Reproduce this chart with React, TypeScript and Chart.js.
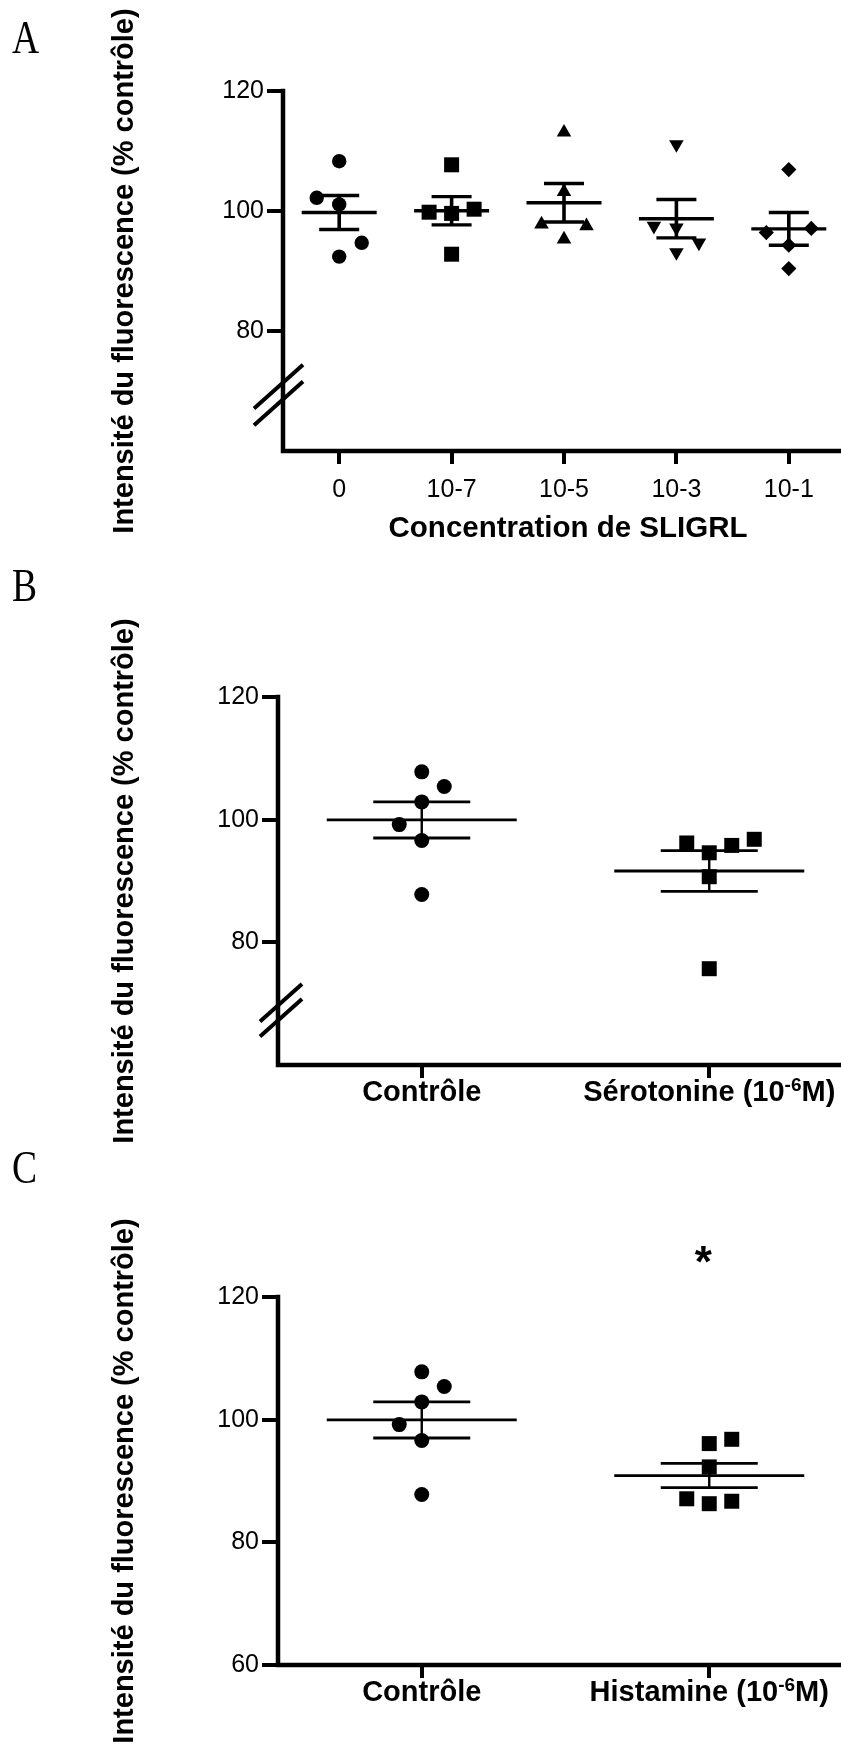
import React, { useEffect, useRef } from "react";
import { Chart, registerables } from "chart.js";

Chart.register(...registerables);

const SANS = '"Liberation Sans", Arial, Helvetica, sans-serif';
const SERIF = '"Liberation Serif", "Times New Roman", serif';

// ---------------- Data ----------------
const yAxisTitle = "Intensité du fluorescence (% contrôle)";

// Panel A
const sligrlLabels = ["0", "10-7", "10-5", "10-3", "10-1"];
const sligrlTitle = "Concentration de SLIGRL";
const sligrl0 = [108.3, 101.1, 92.4, 94.7, 102.2];
const sligrl1e7 = [107.7, 99.6, 100.3, 99.8, 92.8];
const sligrl1e5 = [113.1, 103.2, 95.3, 97.5, 97.8];
const sligrl1e3 = [111.1, 97.2, 93.1, 94.7, 97.5];
const sligrl1e1 = [106.9, 94.3, 90.4, 97.1, 96.4];
const ticksA = [80, 100, 120];

// Panel B
const serotoninLabels = ["Contrôle", "Sérotonine (10^{-6}M)"];
const serotoninControl = [107.8, 105.4, 102.9, 96.6, 99.2, 87.8];
const serotoninTreated = [94.6, 95.8, 96.2, 96.8, 90.7, 75.7];
const ticksB = [80, 100, 120];

// Panel C
const histamineLabels = ["Contrôle", "Histamine (10^{-6}M)"];
const histamineControl = [107.8, 105.4, 102.9, 96.6, 99.2, 87.8];
const histamineTreated = [96.1, 96.8, 92.3, 86.3, 87.1, 86.7];
const histamineSignificance = ["", "*"];
const ticksC = [60, 80, 100, 120];

// ---------------- Layout helpers ----------------
const SWARM_THRESHOLD = 3.2; // value units: closer points are spread sideways
const SLOT_PX = 22.5;

function swarmSlots(values: number[]): number[] {
  const slots: number[] = [];
  let displaced = 0;
  values.forEach((v) => {
    const free = (s: number) =>
      !slots.some((ps, j) => ps === s && Math.abs(values[j] - v) < SWARM_THRESHOLD);
    if (free(0)) {
      slots.push(0);
      return;
    }
    displaced += 1;
    const dir = displaced % 2 === 1 ? 1 : -1;
    for (let k = 1; k < 10; k++) {
      if (free(dir * k)) { slots.push(dir * k); return; }
      if (free(-dir * k)) { slots.push(-dir * k); return; }
    }
    slots.push(0);
  });
  return slots;
}

type Marker = { style: string; radius: number; rotation?: number };

interface PanelSpec {
  letter: string;
  letterBaseline: number; // page coords
  top: number;
  width: number;
  height: number;
  chartTop: number;
  chartBottom: number;
  chartLeft: number;
  chartRight: number;
  labels: string[];
  groups: number[][];
  markers: Marker[];
  yTicks: number[];
  libraryXLabels: boolean;
  xTitle?: string;
  xTitleBaseline?: number;
  brk?: { value: number; left: number; right: number; gap: number; slope: number };
  meanHalf: number;
  capHalf: number;
  meanWidth: number;
  barWidth: number;
  stars?: string[];
  starValue?: number;
}

const panels: PanelSpec[] = [
  {
    letter: "A",
    letterBaseline: 53,
    top: 0,
    width: 870,
    height: 600,
    chartTop: 91,
    chartBottom: 451,
    chartLeft: 283,
    chartRight: 845,
    labels: sligrlLabels,
    groups: [sligrl0, sligrl1e7, sligrl1e5, sligrl1e3, sligrl1e1],
    markers: [
      { style: "circle", radius: 7.2 },
      { style: "rect", radius: 10.6 },
      { style: "triangle", radius: 8.4 },
      { style: "triangle", radius: 8.4, rotation: 180 },
      { style: "rectRot", radius: 7.6 },
    ],
    yTicks: ticksA,
    libraryXLabels: true,
    xTitle: sligrlTitle,
    xTitleBaseline: 537,
    brk: { value: 70, left: 29, right: 20, gap: 16.7, slope: 0.89 },
    meanHalf: 37.5,
    capHalf: 20,
    meanWidth: 3.4,
    barWidth: 3.6,
  },
  {
    letter: "B",
    letterBaseline: 601,
    top: 560,
    width: 870,
    height: 600,
    chartTop: 137,
    chartBottom: 505,
    chartLeft: 278,
    chartRight: 853,
    labels: serotoninLabels,
    groups: [serotoninControl, serotoninTreated],
    markers: [
      { style: "circle", radius: 7.5 },
      { style: "rect", radius: 10.6 },
    ],
    yTicks: ticksB,
    libraryXLabels: false,
    brk: { value: 68.5, left: 18, right: 24, gap: 15, slope: 0.89 },
    meanHalf: 95,
    capHalf: 48.5,
    meanWidth: 2.8,
    barWidth: 2.4,
  },
  {
    letter: "C",
    letterBaseline: 1183,
    top: 1120,
    width: 870,
    height: 627,
    chartTop: 177,
    chartBottom: 545,
    chartLeft: 278,
    chartRight: 853,
    labels: histamineLabels,
    groups: [histamineControl, histamineTreated],
    markers: [
      { style: "circle", radius: 7.5 },
      { style: "rect", radius: 10.6 },
    ],
    yTicks: ticksC,
    libraryXLabels: false,
    meanHalf: 95,
    capHalf: 48.5,
    meanWidth: 2.8,
    barWidth: 2.4,
    stars: histamineSignificance,
    starValue: 127,
  },
];

function drawRich(ctx: CanvasRenderingContext2D, text: string, cx: number, baseline: number, size: number) {
  const parts: { t: string; sup: boolean }[] = [];
  const re = /\^\{([^}]*)\}/g;
  let last = 0;
  let m: RegExpExecArray | null;
  while ((m = re.exec(text))) {
    if (m.index > last) parts.push({ t: text.slice(last, m.index), sup: false });
    parts.push({ t: m[1], sup: true });
    last = m.index + m[0].length;
  }
  if (last < text.length) parts.push({ t: text.slice(last), sup: false });
  const supSize = Math.round(size * 0.64);
  const fontFor = (sup: boolean) => `bold ${sup ? supSize : size}px ${SANS}`;
  let total = 0;
  parts.forEach((p) => {
    ctx.font = fontFor(p.sup);
    total += ctx.measureText(p.t).width;
  });
  let x = cx - total / 2;
  ctx.textAlign = "left";
  ctx.textBaseline = "alphabetic";
  parts.forEach((p) => {
    ctx.font = fontFor(p.sup);
    ctx.fillText(p.t, x, p.sup ? baseline - size * 0.36 : baseline);
    x += ctx.measureText(p.t).width;
  });
}

function makePlugin(spec: PanelSpec) {
  return {
    id: "decor" + spec.letter,
    afterDraw(chart: any) {
      const ctx: CanvasRenderingContext2D = chart.ctx;
      const area = chart.chartArea;
      const xs = chart.scales.x;
      const ys = chart.scales.y;
      ctx.save();
      ctx.fillStyle = "#000";
      ctx.strokeStyle = "#000";

      // axis lines
      ctx.lineWidth = 4.5;
      ctx.lineCap = "square";
      ctx.beginPath();
      ctx.moveTo(area.left, area.top);
      ctx.lineTo(area.left, area.bottom);
      ctx.lineTo(area.right + 20, area.bottom);
      ctx.stroke();

      // axis break marks
      if (spec.brk) {
        const b = spec.brk;
        const yc = ys.getPixelForValue(b.value);
        ctx.lineWidth = 4;
        ctx.lineCap = "butt";
        [-b.gap / 2, b.gap / 2].forEach((off) => {
          const y0 = yc + off;
          ctx.beginPath();
          ctx.moveTo(area.left - b.left, y0 + b.left * b.slope);
          ctx.lineTo(area.left + b.right, y0 - b.right * b.slope);
          ctx.stroke();
        });
      }

      // mean +/- SEM
      ctx.lineCap = "butt";
      spec.groups.forEach((vals, gi) => {
        const n = vals.length;
        const mean = vals.reduce((a, v) => a + v, 0) / n;
        const sd = Math.sqrt(vals.reduce((a, v) => a + (v - mean) * (v - mean), 0) / (n - 1));
        const sem = sd / Math.sqrt(n);
        const px = xs.getPixelForValue(gi);
        const ym = ys.getPixelForValue(mean);
        const yu = ys.getPixelForValue(mean + sem);
        const yl = ys.getPixelForValue(mean - sem);
        ctx.lineWidth = spec.meanWidth;
        ctx.beginPath();
        ctx.moveTo(px - spec.meanHalf, ym);
        ctx.lineTo(px + spec.meanHalf, ym);
        ctx.moveTo(px - spec.capHalf, yu);
        ctx.lineTo(px + spec.capHalf, yu);
        ctx.moveTo(px - spec.capHalf, yl);
        ctx.lineTo(px + spec.capHalf, yl);
        ctx.stroke();
        ctx.lineWidth = spec.barWidth;
        ctx.beginPath();
        ctx.moveTo(px, yu);
        ctx.lineTo(px, yl);
        ctx.stroke();
      });

      // y axis title
      ctx.save();
      ctx.translate(133, (area.top + area.bottom) / 2);
      ctx.rotate(-Math.PI / 2);
      ctx.font = `bold 29px ${SANS}`;
      ctx.textAlign = "center";
      ctx.textBaseline = "alphabetic";
      ctx.fillText(yAxisTitle, 0, 0);
      ctx.restore();

      // x title
      if (spec.xTitle && spec.xTitleBaseline !== undefined) {
        ctx.font = `bold 29.5px ${SANS}`;
        ctx.textAlign = "center";
        ctx.textBaseline = "alphabetic";
        ctx.fillText(spec.xTitle, (area.left + area.right) / 2 + 4, spec.xTitleBaseline - spec.top);
      }

      // custom x labels with superscripts
      if (!spec.libraryXLabels) {
        spec.labels.forEach((lab, i) => {
          drawRich(ctx, lab, xs.getPixelForValue(i), area.bottom + 36, 29);
        });
      }

      // significance stars
      if (spec.stars && spec.starValue !== undefined) {
        ctx.font = `bold 44px ${SANS}`;
        ctx.textAlign = "center";
        ctx.textBaseline = "alphabetic";
        spec.stars.forEach((s, i) => {
          if (!s) return;
          const mt = ctx.measureText(s);
          const cy = ys.getPixelForValue(spec.starValue as number);
          const base = cy + (mt.actualBoundingBoxAscent - mt.actualBoundingBoxDescent) / 2;
          ctx.fillText(s, xs.getPixelForValue(i) - 6, base);
        });
      }

      // panel letter
      ctx.save();
      ctx.font = `47px ${SERIF}`;
      ctx.textAlign = "left";
      ctx.textBaseline = "alphabetic";
      ctx.translate(12, spec.letterBaseline - spec.top);
      ctx.scale(0.8, 1);
      ctx.fillText(spec.letter, 0, 0);
      ctx.restore();

      ctx.restore();
    },
  };
}

function buildConfig(spec: PanelSpec): any {
  const xAxisH = 60;
  const datasets = spec.groups.map((vals, gi) => ({
    type: "scatter",
    data: vals.map((v) => ({ x: gi, y: v })),
    pointStyle: spec.markers[gi].style,
    pointRotation: spec.markers[gi].rotation || 0,
    pointRadius: spec.markers[gi].radius,
    pointHoverRadius: spec.markers[gi].radius,
    backgroundColor: "#000",
    borderColor: "#000",
    borderWidth: 0,
    showLine: false,
    clip: false,
  }));
  return {
    type: "scatter",
    data: { datasets },
    plugins: [makePlugin(spec)],
    options: {
      responsive: false,
      animation: false,
      devicePixelRatio: 1,
      events: [],
      layout: {
        padding: {
          top: spec.chartTop,
          left: 0,
          right: spec.width - spec.chartRight,
          bottom: spec.height - spec.chartBottom - xAxisH,
        },
      },
      plugins: {
        legend: { display: false },
        tooltip: { enabled: false },
        title: { display: false },
      },
      scales: {
        x: {
          type: "linear",
          min: -0.5,
          max: spec.labels.length - 0.5,
          afterBuildTicks: (s: any) => {
            s.ticks = spec.labels.map((_, i) => ({ value: i }));
          },
          afterFit: (s: any) => {
            s.height = xAxisH;
          },
          ticks: {
            display: spec.libraryXLabels,
            autoSkip: false,
            maxRotation: 0,
            minRotation: 0,
            padding: 11,
            color: "#000",
            font: { family: SANS, size: 25 },
            callback: (v: number) => spec.labels[Math.round(v)] ?? "",
          },
          grid: {
            display: true,
            drawOnChartArea: false,
            drawTicks: true,
            tickLength: 13,
            lineWidth: 4,
            color: "#000",
          },
          border: { display: false },
        },
        y: {
          type: "linear",
          min: 60,
          max: 120,
          afterBuildTicks: (s: any) => {
            s.ticks = spec.yTicks.map((v) => ({ value: v }));
          },
          afterFit: (s: any) => {
            s.width = spec.chartLeft;
          },
          ticks: {
            padding: 3,
            color: "#000",
            font: { family: SANS, size: 25 },
          },
          grid: {
            display: true,
            drawOnChartArea: false,
            drawTicks: true,
            tickLength: 16,
            lineWidth: 4,
            color: "#000",
          },
          border: { display: false },
        },
      },
    },
  };
}

function Panel({ spec }: { spec: PanelSpec }) {
  const ref = useRef<HTMLCanvasElement>(null);
  useEffect(() => {
    if (!ref.current) return;
    const chart = new Chart(ref.current, buildConfig(spec));
    const xs: any = chart.scales.x;
    const ppu = xs.getPixelForValue(1) - xs.getPixelForValue(0);
    spec.groups.forEach((vals, gi) => {
      const slots = swarmSlots(vals);
      (chart.data.datasets[gi] as any).data = vals.map((v, i) => ({
        x: gi + (slots[i] * SLOT_PX) / ppu,
        y: v,
      }));
    });
    chart.update();
    return () => chart.destroy();
  }, [spec]);
  return (
    <canvas
      ref={ref}
      width={spec.width}
      height={spec.height}
      style={{
        position: "absolute",
        left: 0,
        top: spec.top,
        width: spec.width,
        height: spec.height,
      }}
    />
  );
}

export default function App() {
  return (
    <div
      style={{
        position: "absolute",
        left: 0,
        top: 0,
        width: 841,
        height: 1747,
        overflow: "hidden",
        background: "#fff",
      }}
    >
      {panels.map((p) => (
        <Panel key={p.letter} spec={p} />
      ))}
    </div>
  );
}
